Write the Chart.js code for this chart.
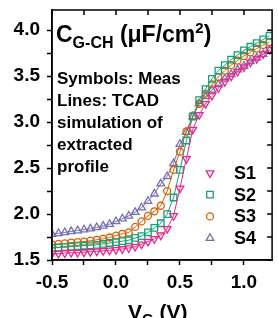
<!DOCTYPE html>
<html>
<head>
<meta charset="utf-8">
<script src="https://cdn.jsdelivr.net/npm/chart.js@4/dist/chart.umd.min.js"></script>
<style>
  html, body { margin: 0; padding: 0; background: #fff; }
  #wrap { width: 278px; height: 318px; }
</style>
</head>
<body>
<div id="wrap"><canvas id="cgChart" width="278" height="318"></canvas></div>
<script>
// gate voltage (V)
const voltages = [-0.5, -0.45, -0.4, -0.35, -0.3, -0.25, -0.2, -0.15, -0.1, -0.05,
  0, 0.05, 0.1, 0.15, 0.2, 0.25, 0.3, 0.35, 0.4, 0.45,
  0.5, 0.55, 0.6, 0.65, 0.7, 0.75, 0.8, 0.85, 0.9, 0.95,
  1.0, 1.05, 1.1, 1.15, 1.2];

// C_G-CH (uF/cm2)
const s1Values = [1.57, 1.57, 1.575, 1.58, 1.58, 1.585, 1.59, 1.595, 1.60, 1.605,
  1.61, 1.62, 1.63, 1.645, 1.67, 1.70, 1.73, 1.77, 1.84, 1.98,
  2.28, 2.60, 2.92, 3.08, 3.20, 3.29, 3.37, 3.44, 3.50, 3.55,
  3.60, 3.65, 3.69, 3.74, 3.79];
const s2Values = [1.63, 1.635, 1.64, 1.645, 1.65, 1.655, 1.66, 1.665, 1.675, 1.685,
  1.695, 1.705, 1.715, 1.74, 1.76, 1.80, 1.85, 1.90, 2.00, 2.18,
  2.48, 2.80, 3.06, 3.24, 3.36, 3.47, 3.56, 3.62, 3.68, 3.73,
  3.78, 3.82, 3.86, 3.90, 3.94];
const s3Values = [1.67, 1.675, 1.68, 1.69, 1.695, 1.70, 1.71, 1.72, 1.73, 1.745,
  1.765, 1.785, 1.80, 1.86, 1.92, 1.98, 2.03, 2.09, 2.25, 2.48,
  2.68, 2.90, 3.07, 3.20, 3.31, 3.41, 3.49, 3.56, 3.62, 3.67,
  3.72, 3.76, 3.80, 3.84, 3.87];
const s4Values = [1.78, 1.79, 1.80, 1.81, 1.82, 1.83, 1.84, 1.855, 1.87, 1.89,
  1.92, 1.95, 1.98, 2.02, 2.07, 2.14, 2.22, 2.33, 2.41, 2.55,
  2.76, 2.89, 3.06, 3.20, 3.28, 3.35, 3.41, 3.47, 3.52, 3.57,
  3.61, 3.66, 3.70, 3.74, 3.78];

const seriesNames = ['S1', 'S2', 'S3', 'S4'];
const xTickLabels = ['-0.5', '0.0', '0.5', '1.0'];
const yTickLabels = ['1.5', '2.0', '2.5', '3.0', '3.5', '4.0'];
const noteLines = ['Symbols: Meas', 'Lines: TCAD', 'simulation of', 'extracted', 'profile'];

const FONT = '"Liberation Sans", Arial, Helvetica, sans-serif';
const colors = ['#e7298a', '#1b9e77', '#d95f02', '#7570b3'];
const styles = [
  { pointStyle: 'triangle', radius: 4.4, rotation: 180 },
  { pointStyle: 'rect', radius: 4.6, rotation: 0 },
  { pointStyle: 'circle', radius: 3.5, rotation: 0 },
  { pointStyle: 'triangle', radius: 4.4, rotation: 0 }
];
const allValues = [s1Values, s2Values, s3Values, s4Values];

const datasets = allValues.map((vals, i) => ({
  label: seriesNames[i],
  data: voltages.map((v, j) => ({ x: v, y: vals[j] })),
  borderColor: colors[i],
  backgroundColor: 'rgba(0,0,0,0)',
  borderWidth: 1,
  pointStyle: styles[i].pointStyle,
  pointRadius: styles[i].radius,
  pointRotation: styles[i].rotation,
  pointBorderWidth: 1.3,
  pointBorderColor: colors[i],
  pointBackgroundColor: 'rgba(0,0,0,0)',
  showLine: true,
  tension: 0
}));

function labelFor(list, value) {
  const hit = list.find(l => Math.abs(parseFloat(l) - value) < 1e-6);
  return hit === undefined ? '' : hit;
}
// major + minor ticks every 0.25 inside the axis range
function quarterTicks(scale) {
  const ticks = [];
  for (let k = Math.ceil(scale.min * 4 - 1e-9); k <= Math.floor(scale.max * 4 + 1e-9); k++) {
    ticks.push({ value: k / 4 });
  }
  scale.ticks = ticks;
}

// frame, inward ticks top/right, texts and legend
const decorations = {
  id: 'decorations',
  afterDraw(chart) {
    const ctx = chart.ctx;
    const a = chart.chartArea;
    const xs = chart.scales.x, ys = chart.scales.y;
    ctx.save();
    ctx.strokeStyle = '#000';
    ctx.lineWidth = 1.5;
    ctx.strokeRect(a.left, a.top, a.right - a.left, a.bottom - a.top);
    ctx.beginPath();
    xs.ticks.forEach(t => {
      const px = xs.getPixelForValue(t.value);
      ctx.moveTo(px, a.top);
      ctx.lineTo(px, a.top + 5);
    });
    ys.ticks.forEach(t => {
      const py = ys.getPixelForValue(t.value);
      ctx.moveTo(a.right, py);
      ctx.lineTo(a.right - 5, py);
    });
    ctx.stroke();

    ctx.fillStyle = '#000';
    ctx.textBaseline = 'alphabetic';
    ctx.textAlign = 'left';
    // C_G-CH (uF/cm2)
    let x = a.left + 4;
    ctx.font = 'bold 23px ' + FONT;
    ctx.fillText('C', x, 42);
    x += ctx.measureText('C').width;
    ctx.font = 'bold 16px ' + FONT;
    ctx.fillText('G-CH', x, 48);
    x += ctx.measureText('G-CH').width;
    ctx.font = 'bold 23px ' + FONT;
    ctx.fillText(' (\u03bcF/cm', x, 42);
    x += ctx.measureText(' (\u03bcF/cm').width;
    ctx.font = 'bold 15px ' + FONT;
    ctx.fillText('2', x, 33);
    x += ctx.measureText('2').width;
    ctx.font = 'bold 23px ' + FONT;
    ctx.fillText(')', x, 42);

    ctx.font = 'bold 17px ' + FONT;
    noteLines.forEach((line, i) => {
      ctx.fillText(line, a.left + 5, 84 + i * 22);
    });

    // legend
    ctx.font = 'bold 18px ' + FONT;
    seriesNames.forEach((name, i) => {
      const ly = 173 + i * 21.7;
      ctx.strokeStyle = colors[i];
      ctx.fillStyle = 'rgba(0,0,0,0)';
      ctx.lineWidth = 1.3;
      Chart.helpers.drawPoint(ctx, {
        pointStyle: styles[i].pointStyle,
        radius: styles[i].radius,
        rotation: styles[i].rotation,
        borderWidth: 1.3
      }, 210, ly);
      ctx.fillStyle = '#000';
      ctx.textBaseline = 'middle';
      ctx.fillText(name, 234, ly + 1);
    });

    // x axis title V_G (V)
    ctx.textBaseline = 'alphabetic';
    ctx.font = 'bold 21px ' + FONT;
    let tx = 128;
    ctx.fillText('V', tx, 319);
    tx += ctx.measureText('V').width;
    ctx.font = 'bold 15px ' + FONT;
    ctx.fillText('G', tx, 324);
    tx += ctx.measureText('G').width;
    ctx.font = 'bold 21px ' + FONT;
    ctx.fillText(' (V)', tx, 319);
    ctx.restore();
  }
};

const ctx = document.getElementById('cgChart').getContext('2d');
new Chart(ctx, {
  type: 'line',
  data: { datasets: datasets },
  options: {
    responsive: false,
    animation: false,
    layout: { padding: { top: 10, right: 2, left: 0, bottom: 0 } },
    plugins: { legend: { display: false }, tooltip: { enabled: false } },
    scales: {
      x: {
        type: 'linear',
        min: -0.5,
        max: 1.22,
        afterBuildTicks: quarterTicks,
        afterFit: s => { s.height = 58; s.paddingLeft = 0; s.paddingRight = 0; },
        border: { display: true, color: '#000', width: 1.5 },
        grid: { drawOnChartArea: false, drawTicks: true, tickLength: 5, tickColor: '#000', tickWidth: 1.5 },
        ticks: {
          autoSkip: false,
          maxRotation: 0,
          padding: 6,
          color: '#000',
          font: { family: FONT, size: 19, weight: 'bold' },
          callback: v => labelFor(xTickLabels, v)
        }
      },
      y: {
        type: 'linear',
        min: 1.5,
        max: 4.22,
        afterBuildTicks: quarterTicks,
        afterFit: s => { s.width = 52; s.paddingTop = 0; s.paddingBottom = 0; },
        border: { display: true, color: '#000', width: 1.5 },
        grid: { drawOnChartArea: false, drawTicks: true, tickLength: 5, tickColor: '#000', tickWidth: 1.5 },
        ticks: {
          autoSkip: false,
          padding: 7,
          color: '#000',
          font: { family: FONT, size: 19, weight: 'bold' },
          callback: v => labelFor(yTickLabels, v)
        }
      }
    }
  },
  plugins: [decorations]
});
</script>
</body>
</html>
